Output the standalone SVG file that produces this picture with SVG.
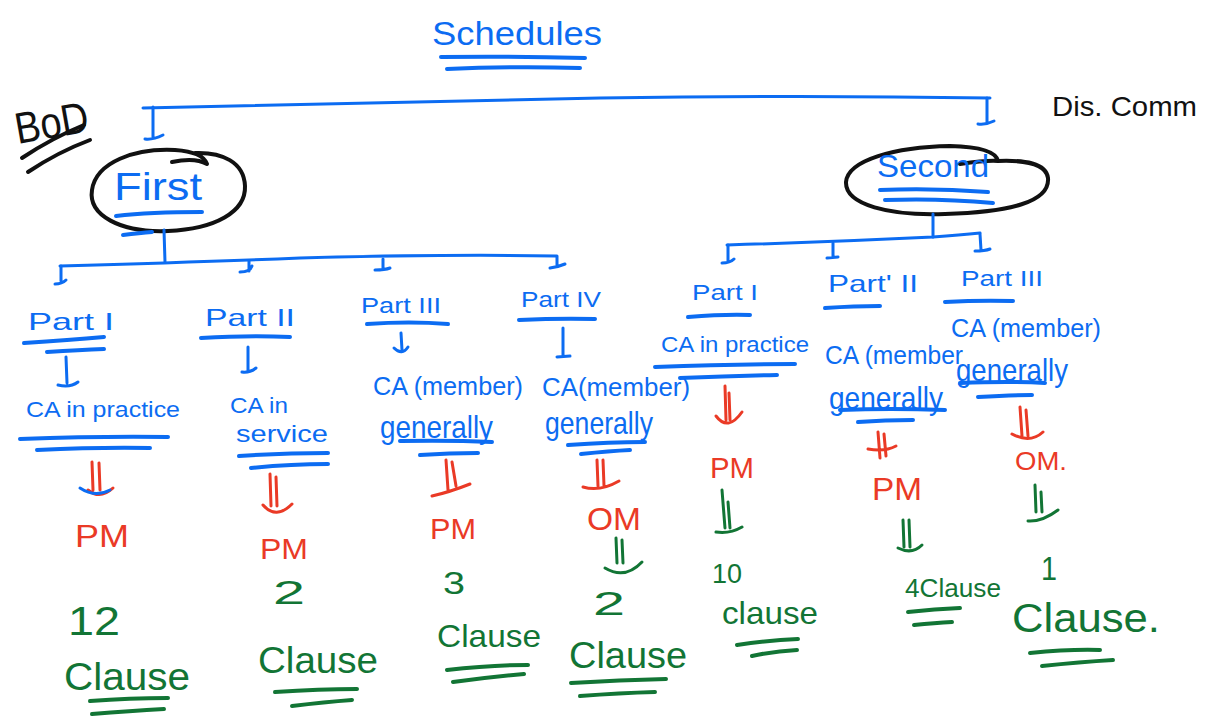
<svg xmlns="http://www.w3.org/2000/svg" width="1206" height="720" viewBox="0 0 1206 720">
<style>
text{font-family:"Liberation Sans","DejaVu Sans",sans-serif;}
.tb{fill:#0c6cf2;}
.tr{fill:#ea3a26;}
.tg{fill:#127535;}
.tk{fill:#111;}
.sb{stroke:#0c6cf2;fill:none;stroke-width:3;stroke-linecap:round;stroke-linejoin:round;}
.sr{stroke:#ea3a26;fill:none;stroke-width:3;stroke-linecap:round;stroke-linejoin:round;}
.sg{stroke:#127535;fill:none;stroke-width:3;stroke-linecap:round;stroke-linejoin:round;}
.sk{stroke:#111;fill:none;stroke-width:4;stroke-linecap:round;stroke-linejoin:round;}
.ul{stroke-width:4;}
</style>
<rect width="1206" height="720" fill="#fff"/>

<g id="title">
<text class="tb" x="432" y="45" font-size="34" textLength="170" lengthAdjust="spacingAndGlyphs">Schedules</text>
<path class="sb ul" d="M441 57 Q510 56 585 58 M447 69 Q515 66 580 68"/>
</g>

<g id="bod">
<text class="tk" x="14" y="138" font-size="44" textLength="74" lengthAdjust="spacingAndGlyphs" transform="rotate(-10 50 120)">BoD</text>
<path class="sk" d="M22 158 Q52 138 84 125 M28 172 Q58 152 90 140"/>
</g>

<g id="discomm">
<text class="tk" x="1052" y="116" font-size="28" textLength="145" lengthAdjust="spacingAndGlyphs">Dis. Comm</text>
</g>

<g id="first">
<path class="sk" d="M172 162 Q195 157 207 164 Q203 152 175 150 C135 148 96 162 92 190 C88 215 120 233 168 231 C215 229 246 212 245 186 C244 162 222 152 195 153"/>
<text class="tb" x="114" y="200" font-size="38" textLength="88" lengthAdjust="spacingAndGlyphs">First</text>
<path class="sb ul" d="M116 216 Q150 212 202 212 M123 235 Q140 233 152 232"/>
</g>

<g id="second">
<path class="sk" d="M960 164 Q988 160 998 161 Q995 147 950 146 C895 147 848 160 846 182 C845 205 890 216 945 214 C1010 212 1050 202 1048 178 C1046 163 1025 160 998 161"/>
<text class="tb" x="877" y="177" font-size="32" textLength="112" lengthAdjust="spacingAndGlyphs">Second</text>
<path class="sb ul" d="M880 190 Q935 188 988 192 M885 200 Q940 198 993 203"/>
</g>

<g id="connectors">
<path class="sb" d="M143 108 Q400 103 600 98 Q800 95 990 98"/>
<path class="sb" d="M153 107 L153 137 M145 139 Q153 140 163 135"/>
<path class="sb" d="M987 98 L987 122 M978 124 Q986 125 994 121"/>
<path class="sb" d="M164 230 L165 262"/>
<path class="sb" d="M60 266 Q200 262 300 258 Q450 254 556 256"/>
<path class="sb" d="M61 266 L61 281 M55 284 Q62 284 66 280"/>
<path class="sb" d="M249 261 L249 271 M240 272 Q250 272 252 266"/>
<path class="sb" d="M383 259 L383 269 M375 270 Q385 270 390 268"/>
<path class="sb" d="M557 256 L557 266 M550 268 Q558 267 565 264"/>
<path class="sb" d="M933 214 L933 237"/>
<path class="sb" d="M727 245 Q830 242 933 237 Q960 235 980 233"/>
<path class="sb" d="M728 245 L728 261 M722 263 Q730 263 734 259"/>
<path class="sb" d="M833 243 L833 257 M827 258 L838 257"/>
<path class="sb" d="M980 234 L981 250 M975 251 Q985 251 990 249"/>
</g>

<!-- Column 1 -->
<g id="c1-part">
<text class="tb" x="28" y="330" font-size="24" textLength="86" lengthAdjust="spacingAndGlyphs">Part I</text>
<path class="sb ul" d="M24 343 Q70 340 104 337 M47 352 Q80 350 104 349"/>
</g>
<g id="c1-ca">
<path class="sb" d="M66 357 L67 383 M58 385 Q70 388 78 382"/>
<text class="tb" x="26" y="417" font-size="22" textLength="154" lengthAdjust="spacingAndGlyphs">CA in practice</text>
<path class="sb ul" d="M20 439 Q100 436 168 437 M37 450 Q100 447 150 448"/>
</g>
<g id="c1-pm">
<path class="sr" d="M92 462 L93 490 M99 463 L100 490 M88 490 Q100 500 113 488"/>
<path class="sb" d="M80 488 Q95 498 110 490"/>
<text class="tr" x="75" y="547" font-size="32" textLength="54" lengthAdjust="spacingAndGlyphs">PM</text>
</g>
<g id="c1-clause">
<text class="tg" x="68" y="635" font-size="40" textLength="52" lengthAdjust="spacingAndGlyphs">12</text>
<text class="tg" x="64" y="690" font-size="38" textLength="126" lengthAdjust="spacingAndGlyphs">Clause</text>
<path class="sg ul" d="M90 701 Q130 698 168 698 M92 714 Q130 711 164 709"/>
</g>

<!-- Column 2 -->
<g id="c2-part">
<text class="tb" x="205" y="326" font-size="24" textLength="90" lengthAdjust="spacingAndGlyphs">Part II</text>
<path class="sb ul" d="M201 338 Q250 335 290 337"/>
</g>
<g id="c2-ca">
<path class="sb" d="M248 347 L248 371 M242 372 Q250 373 256 368"/>
<text class="tb" x="230" y="413" font-size="22" textLength="58" lengthAdjust="spacingAndGlyphs">CA in</text>
<text class="tb" x="236" y="442" font-size="24" textLength="92" lengthAdjust="spacingAndGlyphs">service</text>
<path class="sb ul" d="M239 456 Q285 453 328 453 M251 468 Q290 464 328 464"/>
</g>
<g id="c2-pm">
<path class="sr" d="M270 474 L271 506 M276 477 L277 506 M263 505 Q276 520 292 504"/>
<text class="tr" x="260" y="559" font-size="30" textLength="48" lengthAdjust="spacingAndGlyphs">PM</text>
</g>
<g id="c2-clause">
<text class="tg" x="273" y="604" font-size="34" textLength="32" lengthAdjust="spacingAndGlyphs">2</text>
<text class="tg" x="258" y="673" font-size="36" textLength="120" lengthAdjust="spacingAndGlyphs">Clause</text>
<path class="sg ul" d="M275 692 Q320 689 357 689 M292 706 Q325 702 352 700"/>
</g>

<!-- Column 3 -->
<g id="c3-part">
<text class="tb" x="361" y="313" font-size="22" textLength="80" lengthAdjust="spacingAndGlyphs">Part III</text>
<path class="sb ul" d="M367 324 Q410 321 448 324"/>
</g>
<g id="c3-ca">
<path class="sb" d="M401 333 L402 350 M394 348 Q402 356 408 347"/>
<text class="tb" x="373" y="395" font-size="26" textLength="150" lengthAdjust="spacingAndGlyphs">CA (member)</text>
<text class="tb" x="380" y="438" font-size="32" textLength="113" lengthAdjust="spacingAndGlyphs">generally</text>
<path class="sb ul" d="M400 441 Q450 440 492 442 M420 455 Q450 453 478 453"/>
</g>
<g id="c3-pm">
<path class="sr" d="M446 460 L448 490 M452 462 L456 486 M432 496 Q450 492 470 484"/>
<text class="tr" x="430" y="539" font-size="30" textLength="46" lengthAdjust="spacingAndGlyphs">PM</text>
</g>
<g id="c3-clause">
<text class="tg" x="443" y="594" font-size="32" textLength="22" lengthAdjust="spacingAndGlyphs">3</text>
<text class="tg" x="437" y="647" font-size="32" textLength="104" lengthAdjust="spacingAndGlyphs">Clause</text>
<path class="sg ul" d="M447 670 Q490 665 528 665 M453 682 Q490 677 524 674"/>
</g>

<!-- Column 4 -->
<g id="c4-part">
<text class="tb" x="521" y="307" font-size="22" textLength="80" lengthAdjust="spacingAndGlyphs">Part IV</text>
<path class="sb ul" d="M519 320 Q560 318 595 319"/>
</g>
<g id="c4-ca">
<path class="sb" d="M563 328 L563 356 M557 357 L570 356"/>
<text class="tb" x="542" y="396" font-size="26" textLength="148" lengthAdjust="spacingAndGlyphs">CA(member)</text>
<text class="tb" x="545" y="434" font-size="32" textLength="108" lengthAdjust="spacingAndGlyphs">generally</text>
<path class="sb ul" d="M568 445 Q610 442 645 442 M581 454 Q610 451 630 450"/>
</g>
<g id="c4-om">
<path class="sr" d="M597 460 L598 486 M603 460 L604 486 M583 487 Q600 492 619 481"/>
<text class="tr" x="587" y="530" font-size="32" textLength="54" lengthAdjust="spacingAndGlyphs">OM</text>
<path class="sg" d="M616 538 L617 563 M622 540 L623 563 M605 568 Q625 580 642 562"/>
</g>
<g id="c4-clause">
<text class="tg" x="593" y="615" font-size="34" textLength="32" lengthAdjust="spacingAndGlyphs">2</text>
<text class="tg" x="569" y="668" font-size="36" textLength="118" lengthAdjust="spacingAndGlyphs">Clause</text>
<path class="sg ul" d="M571 683 Q620 680 666 679 M580 696 Q620 693 655 692"/>
</g>

<!-- Column 5 -->
<g id="c5-part">
<text class="tb" x="692" y="300" font-size="22" textLength="66" lengthAdjust="spacingAndGlyphs">Part I</text>
<path class="sb ul" d="M688 317 Q725 314 750 315"/>
</g>
<g id="c5-ca">
<text class="tb" x="661" y="352" font-size="22" textLength="148" lengthAdjust="spacingAndGlyphs">CA in practice</text>
<path class="sb ul" d="M655 367 Q730 364 795 364 M680 378 Q730 376 777 375"/>
</g>
<g id="c5-pm">
<path class="sr" d="M725 386 L726 420 M729 393 L730 420 M716 416 Q728 432 742 412"/>
<text class="tr" x="710" y="478" font-size="30" textLength="44" lengthAdjust="spacingAndGlyphs">PM</text>
<path class="sg" d="M722 490 L725 528 M728 502 L730 528 M716 532 Q730 534 742 527"/>
</g>
<g id="c5-clause">
<text class="tg" x="712" y="583" font-size="28" textLength="30" lengthAdjust="spacingAndGlyphs">10</text>
<text class="tg" x="722" y="624" font-size="32" textLength="96" lengthAdjust="spacingAndGlyphs">clause</text>
<path class="sg ul" d="M737 645 Q770 640 798 639 M752 656 Q775 651 797 650"/>
</g>

<!-- Column 6 -->
<g id="c6-part">
<text class="tb" x="828" y="292" font-size="24" textLength="90" lengthAdjust="spacingAndGlyphs">Part' II</text>
<path class="sb ul" d="M825 308 Q855 306 880 306"/>
</g>
<g id="c6-ca">
<text class="tb" x="825" y="364" font-size="26" textLength="138" lengthAdjust="spacingAndGlyphs">CA (member</text>
<text class="tb" x="829" y="409" font-size="32" textLength="114" lengthAdjust="spacingAndGlyphs">generally</text>
<path class="sb ul" d="M840 410 Q890 408 945 410 M858 422 Q885 420 913 420"/>
</g>
<g id="c6-pm">
<path class="sr" d="M878 432 L880 458 M884 434 L886 456 M868 449 Q885 452 896 446"/>
<text class="tr" x="872" y="500" font-size="32" textLength="50" lengthAdjust="spacingAndGlyphs">PM</text>
<path class="sg" d="M903 520 L904 547 M909 520 L910 547 M898 548 Q912 555 922 545"/>
</g>
<g id="c6-clause">
<text class="tg" x="905" y="597" font-size="26" textLength="96" lengthAdjust="spacingAndGlyphs">4Clause</text>
<path class="sg ul" d="M908 612 Q935 609 960 608 M914 625 Q935 623 952 622"/>
</g>

<!-- Column 7 -->
<g id="c7-part">
<text class="tb" x="961" y="286" font-size="22" textLength="82" lengthAdjust="spacingAndGlyphs">Part III</text>
<path class="sb ul" d="M945 302 Q980 300 1013 301"/>
</g>
<g id="c7-ca">
<text class="tb" x="951" y="337" font-size="26" textLength="150" lengthAdjust="spacingAndGlyphs">CA (member)</text>
<text class="tb" x="956" y="381" font-size="32" textLength="112" lengthAdjust="spacingAndGlyphs">generally</text>
<path class="sb ul" d="M960 383 Q1010 381 1045 383 M978 397 Q1010 395 1032 395"/>
</g>
<g id="c7-om">
<path class="sr" d="M1020 407 L1022 436 M1026 410 L1028 436 M1012 434 Q1030 444 1043 432"/>
<text class="tr" x="1015" y="470" font-size="26" textLength="52" lengthAdjust="spacingAndGlyphs">OM.</text>
<path class="sg" d="M1035 485 L1036 512 M1041 492 L1042 512 M1028 521 Q1042 522 1058 510"/>
</g>
<g id="c7-clause">
<text class="tg" x="1041" y="580" font-size="34" textLength="16" lengthAdjust="spacingAndGlyphs">1</text>
<text class="tg" x="1012" y="632" font-size="40" textLength="148" lengthAdjust="spacingAndGlyphs">Clause.</text>
<path class="sg ul" d="M1030 653 Q1070 649 1100 650 M1042 666 Q1080 662 1113 660"/>
</g>
</svg>
